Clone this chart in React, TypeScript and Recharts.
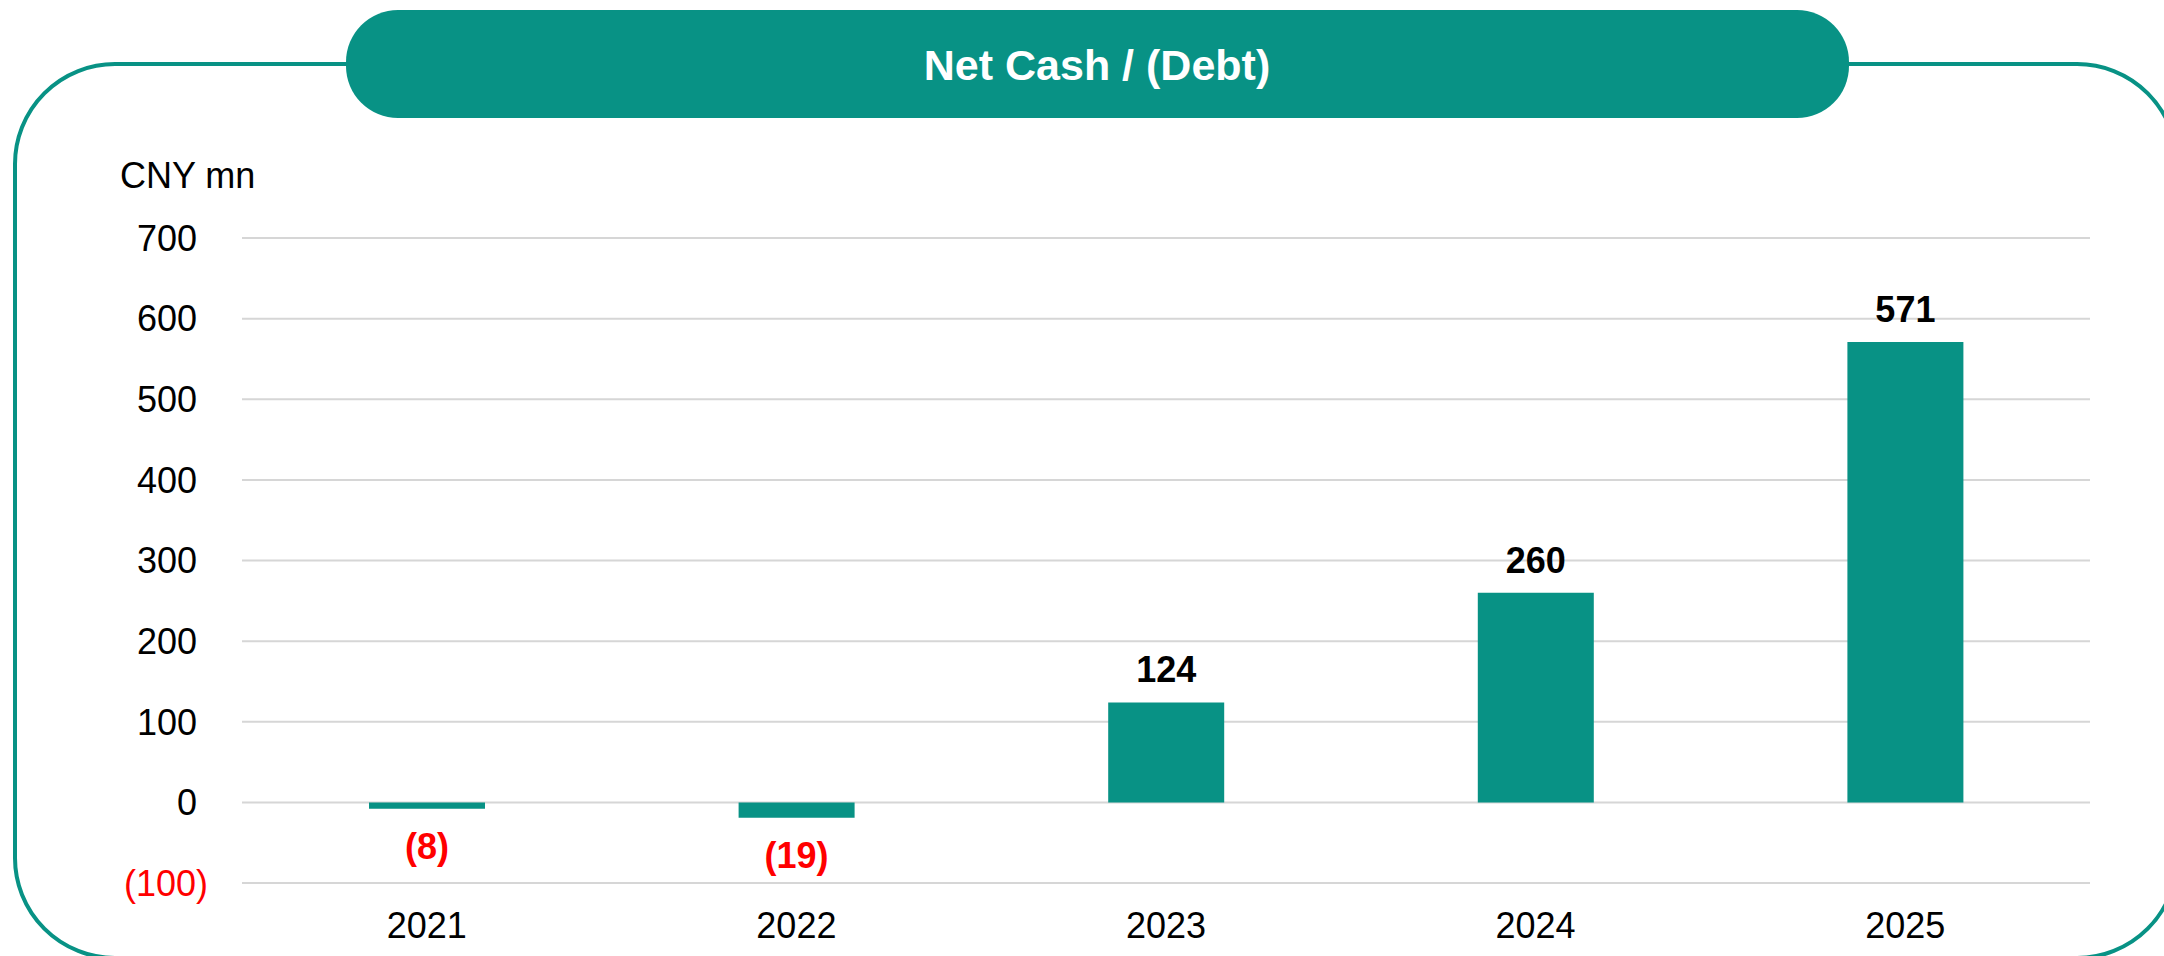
import { Bar, BarChart, CartesianGrid, LabelList, XAxis, YAxis } from 'recharts'

const YEARS = ['2021', '2022', '2023', '2024', '2025']
const NET_CASH = [-8, -19, 124, 260, 571]
const Y_TICKS = [-100, 0, 100, 200, 300, 400, 500, 600, 700]

const TEAL = '#089285'
const RED = '#FF0000'
const FONT = '"Liberation Sans", Arial, sans-serif'

const W = 2164
const H = 956

// Formato contable: negativos entre paréntesis.
const fmt = (v: number) => (v < 0 ? `(${Math.abs(v)})` : `${v}`)

function YTick(props: any) {
  const { x, y, payload } = props
  const v = Number(payload.value)
  // Los positivos dejan el hueco del ")" como en Excel (#,##0_)).
  return (
    <text
      x={v < 0 ? x : x - 11}
      y={y}
      dy="0.355em"
      textAnchor="end"
      fontSize={36}
      fontFamily={FONT}
      fill={v < 0 ? RED : '#000'}
    >
      {fmt(v)}
    </text>
  )
}

function ValueLabel(props: any) {
  const { x, y, width, height, value } = props
  const v = Number(value)
  const top = Math.min(y, y + height)
  const bottom = Math.max(y, y + height)
  const cx = x + width / 2
  const ty = v >= 0 ? top - 20 : bottom + 50
  return (
    <text
      x={cx}
      y={ty}
      textAnchor="middle"
      fontSize={36}
      fontWeight="bold"
      fontFamily={FONT}
      fill={v < 0 ? RED : '#000'}
    >
      {fmt(v)}
    </text>
  )
}

export default function App() {
  const data = YEARS.map((year, i) => ({ year, value: NET_CASH[i] }))

  return (
    <div
      style={{
        position: 'absolute',
        left: 0,
        top: 0,
        width: W,
        height: H,
        overflow: 'hidden',
        background: '#fff',
        fontFamily: FONT,
      }}
    >
      <svg width={W} height={H} style={{ position: 'absolute', left: 0, top: 0 }}>
        <rect x={15} y={64} width={2162} height={894} rx={100} ry={100} fill="none" stroke={TEAL} strokeWidth={4} />
        <rect x={346} y={10} width={1503} height={108} rx={52} ry={52} fill={TEAL} />
        <text x={1097} y={80} textAnchor="middle" fontSize={43} fontWeight="bold" fill="#fff" fontFamily={FONT}>
          Net Cash / (Debt)
        </text>
        <text x={120} y={188} fontSize={36} fill="#000" fontFamily={FONT}>
          CNY mn
        </text>
      </svg>

      <div style={{ position: 'absolute', left: 0, top: 0 }}>
        <BarChart width={W} height={H} data={data} margin={{ top: 238, right: 74, left: 142, bottom: 13 }}>
          <CartesianGrid vertical={false} stroke="#d6d6d6" strokeWidth={2} />
          <XAxis
            dataKey="year"
            axisLine={false}
            tickLine={false}
            tickSize={0}
            tickMargin={29}
            height={60}
            interval={0}
            tick={{ fontSize: 36, fill: '#000', fontFamily: FONT }}
          />
          <YAxis
            type="number"
            domain={[-100, 700]}
            ticks={Y_TICKS}
            width={100}
            axisLine={false}
            tickLine={false}
            tickSize={0}
            tickMargin={34}
            interval={0}
            tick={<YTick />}
          />
          <Bar dataKey="value" fill={TEAL} barSize={116} isAnimationActive={false}>
            <LabelList dataKey="value" content={<ValueLabel />} />
          </Bar>
        </BarChart>
      </div>
    </div>
  )
}
